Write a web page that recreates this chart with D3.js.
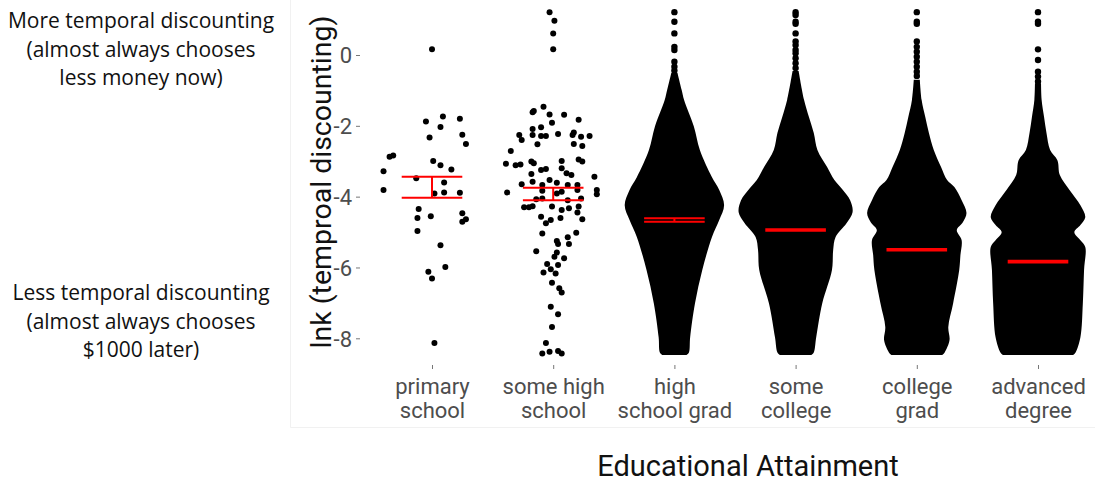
<!DOCTYPE html>
<html lang="en">
  <head>
    <meta charset="UTF-8"/>
    <title>Temporal discounting by education</title>
    <script src="https://d3js.org/d3.v7.min.js"></script>
    <style>
        body {
          margin: 0;
          background: #fff;
        }
        .note {
          font-family: "Open Sans", sans-serif;
          font-size: 21px;
          fill: #111;
        }
        .axis text {
          font-family: Roboto, sans-serif;
          font-size: 22px;
          fill: #4d4d4d;
        }
        .axis line {
          stroke: #777;
        }
        .axis path {
          display: none;
        }
        .title {
          font-family: Roboto, sans-serif;
          fill: #111;
        }
        .errbar {
          stroke: #ff0000;
          stroke-width: 2;
          fill: none;
        }
    </style>
  </head>
  <body>
    <script>
        const width = 1095,
              height = 482

        const categories = ["primary school", "some high school", "high school grad",
                            "some college", "college grad", "advanced degree"]
        const categoryLines = [["primary", "school"], ["some high", "school"], ["high", "school grad"],
                               ["some", "college"], ["college", "grad"], ["advanced", "degree"]]
        const yTicks = [0, -2, -4, -6, -8]

        // [lnk, horizontal jitter as a fraction of the category step]
        const primaryPoints = [
          [0.16, 0.00], [-1.74, 0.09], [-1.80, 0.23], [-1.88, -0.05], [-2.03, 0.07], [-2.25, 0.25],
          [-2.33, -0.02], [-2.51, 0.28], [-2.84, -0.32], [-2.87, -0.35], [-2.99, 0.01], [-3.11, 0.07],
          [-3.23, 0.16], [-3.28, -0.40], [-3.48, -0.13], [-3.60, 0.10], [-3.81, -0.40], [-3.88, 0.10],
          [-3.89, 0.23], [-3.91, 0.02], [-4.35, -0.11], [-4.47, 0.25], [-4.55, -0.01], [-4.60, -0.12],
          [-4.64, 0.28], [-4.71, 0.25], [-4.97, -0.12], [-5.37, 0.07], [-5.99, 0.11], [-6.12, -0.03],
          [-6.31, 0.00], [-8.13, 0.02]
        ]
        const someHighPoints = [
          [1.21, -0.03], [0.97, 0.01], [0.61, 0.00], [0.16, 0.00],
          [-1.58, -0.16], [-1.62, -0.17], [-1.46, -0.08], [-1.68, -0.03], [-1.69, 0.09], [-1.83, 0.21],
          [-1.91, -0.01], [-2.09, -0.17], [-2.04, -0.10], [-2.26, -0.28], [-2.40, -0.26], [-2.26, -0.17],
          [-2.29, -0.10], [-2.29, -0.06], [-2.23, 0.04], [-2.26, 0.16], [-2.19, 0.17], [-2.31, 0.23],
          [-2.29, 0.30], [-2.52, -0.13], [-2.51, 0.17], [-2.57, 0.24], [-2.71, -0.35], [-3.07, -0.39],
          [-3.11, -0.31], [-3.09, -0.27], [-3.01, -0.18], [-3.06, -0.16], [-2.99, 0.07], [-2.95, 0.21],
          [-3.01, 0.24], [-3.20, 0.07], [-3.25, -0.10], [-3.22, -0.06], [-3.34, 0.11], [-3.39, 0.15],
          [-3.36, -0.18], [-3.44, 0.34], [-3.65, -0.26], [-3.58, -0.17], [-3.53, -0.03], [-3.67, -0.09],
          [-3.61, 0.03], [-3.67, 0.12], [-3.67, 0.20], [-3.88, -0.38], [-3.81, 0.36], [-3.93, 0.36],
          [-3.83, -0.09], [-3.86, 0.07], [-3.81, 0.20], [-3.91, 0.03], [-4.07, -0.14], [-4.05, -0.09],
          [-4.10, 0.12], [-4.05, 0.23], [-4.30, -0.24], [-4.30, -0.20], [-4.27, -0.17], [-4.28, -0.01],
          [-4.33, 0.13], [-4.28, 0.21], [-4.38, 0.07], [-4.57, -0.10], [-4.66, -0.02], [-4.60, 0.06],
          [-4.45, 0.20], [-4.64, 0.24], [-4.75, -0.06], [-5.04, -0.09], [-5.02, 0.19], [-5.15, 0.12],
          [-5.25, 0.03], [-5.34, 0.04], [-5.34, 0.13], [-5.54, -0.14], [-5.58, 0.03], [-5.70, 0.01],
          [-5.74, 0.09], [-5.90, -0.05], [-5.93, 0.04], [-6.14, -0.08], [-6.05, -0.02], [-6.17, 0.02],
          [-6.43, -0.01], [-6.59, 0.05], [-6.71, 0.07], [-7.11, -0.02], [-7.32, 0.04], [-7.68, -0.01],
          [-8.13, -0.06], [-8.43, -0.09], [-8.38, -0.03], [-8.36, 0.04], [-8.43, 0.07]
        ]

        // dense groups: outline of the swarm, [lnk, half width as a fraction of the category step]
        const hsGradProfile = [
          [-0.50, 0.025], [-0.99, 0.06], [-1.27, 0.08], [-2.01, 0.16], [-2.68, 0.21], [-3.45, 0.31],
          [-3.81, 0.37], [-4.24, 0.41], [-4.66, 0.37], [-5.14, 0.31], [-6.07, 0.23], [-7.01, 0.17],
          [-7.97, 0.13], [-8.40, 0.12], [-8.47, 0.10]
        ]
        const someCollegeProfile = [
          [-0.45, 0.025], [-1.27, 0.07], [-1.75, 0.11], [-2.20, 0.15], [-2.68, 0.18], [-3.16, 0.26],
          [-3.53, 0.32], [-3.81, 0.39], [-4.10, 0.45], [-4.44, 0.47], [-4.75, 0.42], [-5.14, 0.33],
          [-5.51, 0.31], [-6.07, 0.30], [-7.01, 0.22], [-7.97, 0.17], [-8.40, 0.15], [-8.47, 0.13]
        ]
        const collegeGradProfile = [
          [-0.70, 0.025], [-1.27, 0.04], [-1.75, 0.07], [-2.20, 0.10], [-2.68, 0.14], [-3.16, 0.20],
          [-3.53, 0.25], [-3.73, 0.31], [-4.10, 0.37], [-4.46, 0.41], [-4.72, 0.38], [-4.94, 0.33],
          [-5.23, 0.37], [-5.65, 0.36], [-6.07, 0.35], [-7.01, 0.30], [-7.68, 0.26], [-8.05, 0.27],
          [-8.40, 0.23], [-8.47, 0.21]
        ]
        const advancedProfile = [
          [-0.80, 0.025], [-1.27, 0.03], [-1.75, 0.05], [-2.20, 0.07], [-2.68, 0.10], [-2.97, 0.16],
          [-3.39, 0.18], [-3.81, 0.26], [-4.24, 0.35], [-4.58, 0.39], [-4.80, 0.35], [-5.00, 0.30],
          [-5.23, 0.35], [-5.42, 0.39], [-6.07, 0.38], [-7.01, 0.37], [-7.97, 0.35], [-8.40, 0.31],
          [-8.47, 0.29]
        ]
        // single points above each dense swarm
        const hsGradTail = [1.21, 0.94, 0.61, 0.23, 0.14, -0.19, -0.33, -0.44]
        const someCollegeTail = [1.21, 1.13, 0.94, 0.88, 0.61, 0.38, 0.28, 0.14, 0.05, -0.09, -0.23, -0.37]
        const collegeGradTail = [1.21, 0.94, 0.88, 0.38, 0.23, 0.09, -0.05, -0.19, -0.33, -0.47, -0.59]
        const advancedTail = [1.21, 0.94, 0.88, 0.16, -0.14, -0.47, -0.61, -0.75]

        // mean +/- standard error per category
        const errLow  = [-4.03, -4.10, -4.71, -4.96, -5.52, -5.86]
        const errHigh = [-3.44, -3.75, -4.61, -4.92, -5.48, -5.81]

        const xScale = d3.scalePoint()
            .domain(categories)
            .range([432, 1038])
        const step = xScale.step()

        const yScale = d3.scaleLinear()
            .domain([-8, 0])
            .range([338.3, 55])

        const svg = d3.select("body").append("svg")
            .attr("width", width)
            .attr("height", height)

        // faint edge of the pasted plot image
        svg.append("path")
            .attr("d", "M290.5,0V427.5H1095")
            .attr("fill", "none")
            .attr("stroke", "#f1f1f1")

        const g = svg.append("g")

        const jittered = [
          {cat: categories[0], pts: primaryPoints},
          {cat: categories[1], pts: someHighPoints}
        ]
        jittered.forEach(s => {
          g.append("g").selectAll("circle")
            .data(s.pts)
            .join("circle")
            .attr("cx", d => xScale(s.cat) + d[1] * step)
            .attr("cy", d => yScale(d[0]))
            .attr("r", 3)
            .attr("fill", "#000")
        })

        const dense = [
          {cat: categories[2], profile: hsGradProfile, tail: hsGradTail},
          {cat: categories[3], profile: someCollegeProfile, tail: someCollegeTail},
          {cat: categories[4], profile: collegeGradProfile, tail: collegeGradTail},
          {cat: categories[5], profile: advancedProfile, tail: advancedTail}
        ]
        dense.forEach(s => {
          const cx = xScale(s.cat)
          const hw = d => Math.max(d[1] * step, 3)
          const area = d3.area()
              .x0(d => cx - hw(d))
              .x1(d => cx + hw(d))
              .y(d => yScale(d[0]))
              .curve(d3.curveCatmullRom)
          g.append("path")
              .datum(s.profile)
              .attr("d", area)
              .attr("fill", "#000")
          g.append("g").selectAll("circle")
            .data(s.tail)
            .join("circle")
            .attr("cx", cx)
            .attr("cy", d => yScale(d))
            .attr("r", 3.2)
            .attr("fill", "#000")
        })

        // error bars
        const eb = g.append("g").attr("class", "errbar")
        categories.forEach((c, i) => {
          const cx = xScale(c), hw = step / 4
          const y0 = yScale(errLow[i]), y1 = yScale(errHigh[i])
          eb.append("path")
              .attr("d", `M${cx - hw},${y1}H${cx + hw}M${cx - hw},${y0}H${cx + hw}M${cx},${y1}V${y0}`)
        })

        // axes
        const yAxis = d3.axisLeft(yScale)
            .tickValues(yTicks)
            .tickFormat(d => String(d))
            .tickSize(4)
            .tickPadding(4)
        svg.append("g")
            .attr("class", "y axis")
            .attr("transform", "translate(360, 0)")
            .call(yAxis)
            .selectAll("text")
            .attr("dy", "0.36em")

        const xAxis = d3.axisBottom(xScale)
            .tickSize(4)
            .tickFormat("")
        const xg = svg.append("g")
            .attr("class", "x axis")
            .attr("transform", "translate(0, 365)")
            .call(xAxis)
        xg.selectAll(".tick").append("text")
            .attr("text-anchor", "middle")
            .selectAll("tspan")
            .data((d, i) => categoryLines[i])
            .join("tspan")
            .attr("x", 0)
            .attr("y", (d, i) => 29 + i * 24)
            .text(d => d)

        svg.append("text")
            .attr("class", "title")
            .attr("transform", "translate(331, 182) rotate(-90)")
            .attr("text-anchor", "middle")
            .attr("font-size", 28.5)
            .text("lnk (temproal discounting)")

        svg.append("text")
            .attr("class", "title")
            .attr("x", 748)
            .attr("y", 476)
            .attr("text-anchor", "middle")
            .attr("font-size", 29)
            .text("Educational Attainment")

        // side notes
        const notes = [
          {y: 21, lines: ["More temporal discounting", "(almost always chooses", "less money now)"]},
          {y: 293, lines: ["Less temporal discounting", "(almost always chooses", "$1000 later)"]}
        ]
        notes.forEach(n => {
          svg.append("text")
              .attr("class", "note")
              .attr("text-anchor", "middle")
              .selectAll("tspan")
              .data(n.lines)
              .join("tspan")
              .attr("x", 141)
              .attr("y", (d, i) => n.y + i * 28.5)
              .attr("dy", "0.35em")
              .text(d => d)
        })
    </script>
  </body>
</html>
